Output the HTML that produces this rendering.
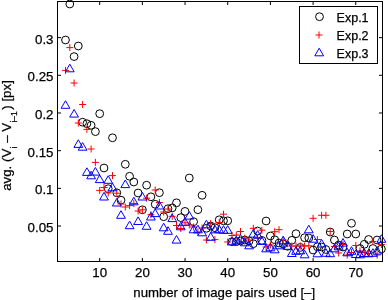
<!DOCTYPE html>
<html><head><meta charset="utf-8"><style>
html,body{margin:0;padding:0;background:#fff;width:388px;height:300px;overflow:hidden}
svg{display:block;will-change:transform}
text{font-family:"Liberation Sans",sans-serif;font-size:13.3px;fill:#000;stroke:#000;stroke-width:0.25px}
</style></head><body>
<svg width="388" height="300" viewBox="0 0 388 300">
<g><circle cx="65.5" cy="40.0" r="3.9" fill="none" stroke="#000" stroke-width="1"/><circle cx="69.8" cy="4.0" r="3.9" fill="none" stroke="#000" stroke-width="1"/><circle cx="74.1" cy="56.6" r="3.9" fill="none" stroke="#000" stroke-width="1"/><circle cx="78.3" cy="46.0" r="3.9" fill="none" stroke="#000" stroke-width="1"/><circle cx="82.6" cy="122.2" r="3.9" fill="none" stroke="#000" stroke-width="1"/><circle cx="86.9" cy="123.7" r="3.9" fill="none" stroke="#000" stroke-width="1"/><circle cx="91.1" cy="125.3" r="3.9" fill="none" stroke="#000" stroke-width="1"/><circle cx="95.4" cy="131.6" r="3.9" fill="none" stroke="#000" stroke-width="1"/><circle cx="99.7" cy="113.7" r="3.9" fill="none" stroke="#000" stroke-width="1"/><circle cx="104.0" cy="168.0" r="3.9" fill="none" stroke="#000" stroke-width="1"/><circle cx="108.2" cy="188.7" r="3.9" fill="none" stroke="#000" stroke-width="1"/><circle cx="112.5" cy="137.8" r="3.9" fill="none" stroke="#000" stroke-width="1"/><circle cx="116.8" cy="192.8" r="3.9" fill="none" stroke="#000" stroke-width="1"/><circle cx="121.0" cy="200.2" r="3.9" fill="none" stroke="#000" stroke-width="1"/><circle cx="125.3" cy="164.3" r="3.9" fill="none" stroke="#000" stroke-width="1"/><circle cx="129.6" cy="176.3" r="3.9" fill="none" stroke="#000" stroke-width="1"/><circle cx="133.8" cy="182.0" r="3.9" fill="none" stroke="#000" stroke-width="1"/><circle cx="138.1" cy="193.0" r="3.9" fill="none" stroke="#000" stroke-width="1"/><circle cx="142.4" cy="209.8" r="3.9" fill="none" stroke="#000" stroke-width="1"/><circle cx="146.6" cy="185.2" r="3.9" fill="none" stroke="#000" stroke-width="1"/><circle cx="150.9" cy="196.8" r="3.9" fill="none" stroke="#000" stroke-width="1"/><circle cx="155.2" cy="204.3" r="3.9" fill="none" stroke="#000" stroke-width="1"/><circle cx="159.4" cy="192.7" r="3.9" fill="none" stroke="#000" stroke-width="1"/><circle cx="163.7" cy="216.7" r="3.9" fill="none" stroke="#000" stroke-width="1"/><circle cx="168.0" cy="208.7" r="3.9" fill="none" stroke="#000" stroke-width="1"/><circle cx="172.2" cy="207.9" r="3.9" fill="none" stroke="#000" stroke-width="1"/><circle cx="176.5" cy="202.8" r="3.9" fill="none" stroke="#000" stroke-width="1"/><circle cx="180.8" cy="217.6" r="3.9" fill="none" stroke="#000" stroke-width="1"/><circle cx="185.0" cy="211.4" r="3.9" fill="none" stroke="#000" stroke-width="1"/><circle cx="189.3" cy="178.0" r="3.9" fill="none" stroke="#000" stroke-width="1"/><circle cx="193.6" cy="221.7" r="3.9" fill="none" stroke="#000" stroke-width="1"/><circle cx="197.9" cy="209.7" r="3.9" fill="none" stroke="#000" stroke-width="1"/><circle cx="202.1" cy="195.3" r="3.9" fill="none" stroke="#000" stroke-width="1"/><circle cx="206.4" cy="228.3" r="3.9" fill="none" stroke="#000" stroke-width="1"/><circle cx="210.7" cy="226.0" r="3.9" fill="none" stroke="#000" stroke-width="1"/><circle cx="214.9" cy="227.7" r="3.9" fill="none" stroke="#000" stroke-width="1"/><circle cx="219.2" cy="219.8" r="3.9" fill="none" stroke="#000" stroke-width="1"/><circle cx="223.5" cy="220.8" r="3.9" fill="none" stroke="#000" stroke-width="1"/><circle cx="227.7" cy="220.8" r="3.9" fill="none" stroke="#000" stroke-width="1"/><circle cx="232.0" cy="241.7" r="3.9" fill="none" stroke="#000" stroke-width="1"/><circle cx="236.3" cy="241.7" r="3.9" fill="none" stroke="#000" stroke-width="1"/><circle cx="240.5" cy="241.0" r="3.9" fill="none" stroke="#000" stroke-width="1"/><circle cx="244.8" cy="240.0" r="3.9" fill="none" stroke="#000" stroke-width="1"/><circle cx="249.1" cy="241.0" r="3.9" fill="none" stroke="#000" stroke-width="1"/><circle cx="253.3" cy="243.7" r="3.9" fill="none" stroke="#000" stroke-width="1"/><circle cx="257.6" cy="231.0" r="3.9" fill="none" stroke="#000" stroke-width="1"/><circle cx="261.9" cy="240.4" r="3.9" fill="none" stroke="#000" stroke-width="1"/><circle cx="266.1" cy="221.0" r="3.9" fill="none" stroke="#000" stroke-width="1"/><circle cx="270.4" cy="236.0" r="3.9" fill="none" stroke="#000" stroke-width="1"/><circle cx="274.7" cy="239.7" r="3.9" fill="none" stroke="#000" stroke-width="1"/><circle cx="279.0" cy="243.0" r="3.9" fill="none" stroke="#000" stroke-width="1"/><circle cx="283.2" cy="244.0" r="3.9" fill="none" stroke="#000" stroke-width="1"/><circle cx="287.5" cy="246.3" r="3.9" fill="none" stroke="#000" stroke-width="1"/><circle cx="291.8" cy="240.3" r="3.9" fill="none" stroke="#000" stroke-width="1"/><circle cx="296.0" cy="233.7" r="3.9" fill="none" stroke="#000" stroke-width="1"/><circle cx="300.3" cy="247.4" r="3.9" fill="none" stroke="#000" stroke-width="1"/><circle cx="304.6" cy="237.7" r="3.9" fill="none" stroke="#000" stroke-width="1"/><circle cx="308.8" cy="238.0" r="3.9" fill="none" stroke="#000" stroke-width="1"/><circle cx="313.1" cy="250.0" r="3.9" fill="none" stroke="#000" stroke-width="1"/><circle cx="317.4" cy="246.8" r="3.9" fill="none" stroke="#000" stroke-width="1"/><circle cx="321.6" cy="247.0" r="3.9" fill="none" stroke="#000" stroke-width="1"/><circle cx="325.9" cy="249.5" r="3.9" fill="none" stroke="#000" stroke-width="1"/><circle cx="330.2" cy="232.0" r="3.9" fill="none" stroke="#000" stroke-width="1"/><circle cx="334.4" cy="240.0" r="3.9" fill="none" stroke="#000" stroke-width="1"/><circle cx="338.7" cy="245.0" r="3.9" fill="none" stroke="#000" stroke-width="1"/><circle cx="343.0" cy="247.0" r="3.9" fill="none" stroke="#000" stroke-width="1"/><circle cx="347.2" cy="234.0" r="3.9" fill="none" stroke="#000" stroke-width="1"/><circle cx="351.5" cy="223.3" r="3.9" fill="none" stroke="#000" stroke-width="1"/><circle cx="355.8" cy="234.0" r="3.9" fill="none" stroke="#000" stroke-width="1"/><circle cx="360.0" cy="248.5" r="3.9" fill="none" stroke="#000" stroke-width="1"/><circle cx="364.3" cy="244.3" r="3.9" fill="none" stroke="#000" stroke-width="1"/><circle cx="368.6" cy="239.5" r="3.9" fill="none" stroke="#000" stroke-width="1"/><circle cx="372.9" cy="248.5" r="3.9" fill="none" stroke="#000" stroke-width="1"/><circle cx="377.1" cy="240.0" r="3.9" fill="none" stroke="#000" stroke-width="1"/><circle cx="381.4" cy="249.0" r="3.9" fill="none" stroke="#000" stroke-width="1"/><path d="M62.0 70.4H69.0M65.5 66.9V73.9" stroke="#f00" stroke-width="1" fill="none"/><path d="M66.3 47.6H73.3M69.8 44.1V51.1" stroke="#f00" stroke-width="1" fill="none"/><path d="M70.6 83.0H77.6M74.1 79.5V86.5" stroke="#f00" stroke-width="1" fill="none"/><path d="M74.8 123.0H81.8M78.3 119.5V126.5" stroke="#f00" stroke-width="1" fill="none"/><path d="M79.1 104.5H86.1M82.6 101.0V108.0" stroke="#f00" stroke-width="1" fill="none"/><path d="M83.4 129.4H90.4M86.9 125.9V132.9" stroke="#f00" stroke-width="1" fill="none"/><path d="M87.6 149.0H94.6M91.1 145.5V152.5" stroke="#f00" stroke-width="1" fill="none"/><path d="M91.9 162.4H98.9M95.4 158.9V165.9" stroke="#f00" stroke-width="1" fill="none"/><path d="M96.2 190.4H103.2M99.7 186.9V193.9" stroke="#f00" stroke-width="1" fill="none"/><path d="M100.5 187.5H107.5M104.0 184.0V191.0" stroke="#f00" stroke-width="1" fill="none"/><path d="M104.7 192.9H111.7M108.2 189.4V196.4" stroke="#f00" stroke-width="1" fill="none"/><path d="M109.0 175.6H116.0M112.5 172.1V179.1" stroke="#f00" stroke-width="1" fill="none"/><path d="M113.3 193.2H120.3M116.8 189.7V196.7" stroke="#f00" stroke-width="1" fill="none"/><path d="M117.5 204.0H124.5M121.0 200.5V207.5" stroke="#f00" stroke-width="1" fill="none"/><path d="M121.8 207.0H128.8M125.3 203.5V210.5" stroke="#f00" stroke-width="1" fill="none"/><path d="M126.1 205.6H133.1M129.6 202.1V209.1" stroke="#f00" stroke-width="1" fill="none"/><path d="M130.3 203.5H137.3M133.8 200.0V207.0" stroke="#f00" stroke-width="1" fill="none"/><path d="M134.6 211.0H141.6M138.1 207.5V214.5" stroke="#f00" stroke-width="1" fill="none"/><path d="M138.9 209.8H145.9M142.4 206.3V213.3" stroke="#f00" stroke-width="1" fill="none"/><path d="M143.1 198.2H150.1M146.6 194.7V201.7" stroke="#f00" stroke-width="1" fill="none"/><path d="M147.4 214.7H154.4M150.9 211.2V218.2" stroke="#f00" stroke-width="1" fill="none"/><path d="M151.7 190.0H158.7M155.2 186.5V193.5" stroke="#f00" stroke-width="1" fill="none"/><path d="M155.9 202.5H162.9M159.4 199.0V206.0" stroke="#f00" stroke-width="1" fill="none"/><path d="M160.2 212.0H167.2M163.7 208.5V215.5" stroke="#f00" stroke-width="1" fill="none"/><path d="M164.5 209.0H171.5M168.0 205.5V212.5" stroke="#f00" stroke-width="1" fill="none"/><path d="M168.7 216.3H175.7M172.2 212.8V219.8" stroke="#f00" stroke-width="1" fill="none"/><path d="M173.0 225.5H180.0M176.5 222.0V229.0" stroke="#f00" stroke-width="1" fill="none"/><path d="M177.3 228.5H184.3M180.8 225.0V232.0" stroke="#f00" stroke-width="1" fill="none"/><path d="M181.5 222.8H188.5M185.0 219.3V226.3" stroke="#f00" stroke-width="1" fill="none"/><path d="M185.8 225.0H192.8M189.3 221.5V228.5" stroke="#f00" stroke-width="1" fill="none"/><path d="M190.1 227.0H197.1M193.6 223.5V230.5" stroke="#f00" stroke-width="1" fill="none"/><path d="M194.4 232.0H201.4M197.9 228.5V235.5" stroke="#f00" stroke-width="1" fill="none"/><path d="M198.6 228.0H205.6M202.1 224.5V231.5" stroke="#f00" stroke-width="1" fill="none"/><path d="M202.9 240.0H209.9M206.4 236.5V243.5" stroke="#f00" stroke-width="1" fill="none"/><path d="M207.2 223.5H214.2M210.7 220.0V227.0" stroke="#f00" stroke-width="1" fill="none"/><path d="M211.4 239.6H218.4M214.9 236.1V243.1" stroke="#f00" stroke-width="1" fill="none"/><path d="M215.7 222.5H222.7M219.2 219.0V226.0" stroke="#f00" stroke-width="1" fill="none"/><path d="M220.0 214.2H227.0M223.5 210.7V217.7" stroke="#f00" stroke-width="1" fill="none"/><path d="M224.2 242.0H231.2M227.7 238.5V245.5" stroke="#f00" stroke-width="1" fill="none"/><path d="M228.5 235.5H235.5M232.0 232.0V239.0" stroke="#f00" stroke-width="1" fill="none"/><path d="M232.8 235.0H239.8M236.3 231.5V238.5" stroke="#f00" stroke-width="1" fill="none"/><path d="M237.0 231.5H244.0M240.5 228.0V235.0" stroke="#f00" stroke-width="1" fill="none"/><path d="M241.3 238.0H248.3M244.8 234.5V241.5" stroke="#f00" stroke-width="1" fill="none"/><path d="M245.6 240.0H252.6M249.1 236.5V243.5" stroke="#f00" stroke-width="1" fill="none"/><path d="M249.8 228.3H256.8M253.3 224.8V231.8" stroke="#f00" stroke-width="1" fill="none"/><path d="M254.1 238.0H261.1M257.6 234.5V241.5" stroke="#f00" stroke-width="1" fill="none"/><path d="M258.4 230.2H265.4M261.9 226.7V233.7" stroke="#f00" stroke-width="1" fill="none"/><path d="M262.6 247.0H269.6M266.1 243.5V250.5" stroke="#f00" stroke-width="1" fill="none"/><path d="M266.9 245.0H273.9M270.4 241.5V248.5" stroke="#f00" stroke-width="1" fill="none"/><path d="M271.2 231.7H278.2M274.7 228.2V235.2" stroke="#f00" stroke-width="1" fill="none"/><path d="M275.5 229.7H282.5M279.0 226.2V233.2" stroke="#f00" stroke-width="1" fill="none"/><path d="M279.7 240.0H286.7M283.2 236.5V243.5" stroke="#f00" stroke-width="1" fill="none"/><path d="M284.0 243.7H291.0M287.5 240.2V247.2" stroke="#f00" stroke-width="1" fill="none"/><path d="M288.3 246.0H295.3M291.8 242.5V249.5" stroke="#f00" stroke-width="1" fill="none"/><path d="M292.5 246.0H299.5M296.0 242.5V249.5" stroke="#f00" stroke-width="1" fill="none"/><path d="M296.8 246.0H303.8M300.3 242.5V249.5" stroke="#f00" stroke-width="1" fill="none"/><path d="M301.1 246.0H308.1M304.6 242.5V249.5" stroke="#f00" stroke-width="1" fill="none"/><path d="M305.3 245.8H312.3M308.8 242.3V249.3" stroke="#f00" stroke-width="1" fill="none"/><path d="M309.6 218.3H316.6M313.1 214.8V221.8" stroke="#f00" stroke-width="1" fill="none"/><path d="M313.9 239.5H320.9M317.4 236.0V243.0" stroke="#f00" stroke-width="1" fill="none"/><path d="M318.1 215.3H325.1M321.6 211.8V218.8" stroke="#f00" stroke-width="1" fill="none"/><path d="M322.4 215.3H329.4M325.9 211.8V218.8" stroke="#f00" stroke-width="1" fill="none"/><path d="M326.7 231.5H333.7M330.2 228.0V235.0" stroke="#f00" stroke-width="1" fill="none"/><path d="M330.9 246.5H337.9M334.4 243.0V250.0" stroke="#f00" stroke-width="1" fill="none"/><path d="M335.2 253.0H342.2M338.7 249.5V256.5" stroke="#f00" stroke-width="1" fill="none"/><path d="M339.5 244.5H346.5M343.0 241.0V248.0" stroke="#f00" stroke-width="1" fill="none"/><path d="M343.7 255.0H350.7M347.2 251.5V258.5" stroke="#f00" stroke-width="1" fill="none"/><path d="M348.0 252.5H355.0M351.5 249.0V256.0" stroke="#f00" stroke-width="1" fill="none"/><path d="M352.3 245.5H359.3M355.8 242.0V249.0" stroke="#f00" stroke-width="1" fill="none"/><path d="M356.5 251.0H363.5M360.0 247.5V254.5" stroke="#f00" stroke-width="1" fill="none"/><path d="M360.8 252.5H367.8M364.3 249.0V256.0" stroke="#f00" stroke-width="1" fill="none"/><path d="M365.1 253.5H372.1M368.6 250.0V257.0" stroke="#f00" stroke-width="1" fill="none"/><path d="M369.4 241.5H376.4M372.9 238.0V245.0" stroke="#f00" stroke-width="1" fill="none"/><path d="M373.6 255.0H380.6M377.1 251.5V258.5" stroke="#f00" stroke-width="1" fill="none"/><path d="M377.9 244.5H384.9M381.4 241.0V248.0" stroke="#f00" stroke-width="1" fill="none"/><path d="M65.5 100.7L69.9 108.3L61.1 108.3Z" stroke="#00f" stroke-width="1" fill="none"/><path d="M69.8 64.2L74.2 71.8L65.4 71.8Z" stroke="#00f" stroke-width="1" fill="none"/><path d="M74.1 109.5L78.5 117.1L69.7 117.1Z" stroke="#00f" stroke-width="1" fill="none"/><path d="M78.3 139.8L82.7 147.4L73.9 147.4Z" stroke="#00f" stroke-width="1" fill="none"/><path d="M82.6 142.6L87.0 150.2L78.2 150.2Z" stroke="#00f" stroke-width="1" fill="none"/><path d="M86.9 167.8L91.3 175.4L82.5 175.4Z" stroke="#00f" stroke-width="1" fill="none"/><path d="M91.1 171.2L95.5 178.8L86.7 178.8Z" stroke="#00f" stroke-width="1" fill="none"/><path d="M95.4 167.5L99.8 175.1L91.0 175.1Z" stroke="#00f" stroke-width="1" fill="none"/><path d="M99.7 175.0L104.1 182.6L95.3 182.6Z" stroke="#00f" stroke-width="1" fill="none"/><path d="M104.0 192.4L108.4 200.0L99.6 200.0Z" stroke="#00f" stroke-width="1" fill="none"/><path d="M108.2 175.7L112.6 183.3L103.8 183.3Z" stroke="#00f" stroke-width="1" fill="none"/><path d="M112.5 183.2L116.9 190.8L108.1 190.8Z" stroke="#00f" stroke-width="1" fill="none"/><path d="M116.8 198.4L121.2 206.0L112.4 206.0Z" stroke="#00f" stroke-width="1" fill="none"/><path d="M121.0 210.7L125.4 218.3L116.6 218.3Z" stroke="#00f" stroke-width="1" fill="none"/><path d="M125.3 180.0L129.7 187.6L120.9 187.6Z" stroke="#00f" stroke-width="1" fill="none"/><path d="M129.6 221.1L134.0 228.7L125.2 228.7Z" stroke="#00f" stroke-width="1" fill="none"/><path d="M133.8 197.2L138.2 204.8L129.4 204.8Z" stroke="#00f" stroke-width="1" fill="none"/><path d="M138.1 216.9L142.5 224.5L133.7 224.5Z" stroke="#00f" stroke-width="1" fill="none"/><path d="M142.4 192.4L146.8 200.0L138.0 200.0Z" stroke="#00f" stroke-width="1" fill="none"/><path d="M146.6 221.7L151.0 229.3L142.2 229.3Z" stroke="#00f" stroke-width="1" fill="none"/><path d="M150.9 212.4L155.3 220.0L146.5 220.0Z" stroke="#00f" stroke-width="1" fill="none"/><path d="M155.2 209.0L159.6 216.6L150.8 216.6Z" stroke="#00f" stroke-width="1" fill="none"/><path d="M159.4 201.4L163.8 209.0L155.0 209.0Z" stroke="#00f" stroke-width="1" fill="none"/><path d="M163.7 223.2L168.1 230.8L159.3 230.8Z" stroke="#00f" stroke-width="1" fill="none"/><path d="M168.0 226.7L172.4 234.3L163.6 234.3Z" stroke="#00f" stroke-width="1" fill="none"/><path d="M172.2 214.0L176.6 221.6L167.8 221.6Z" stroke="#00f" stroke-width="1" fill="none"/><path d="M176.5 235.5L180.9 243.1L172.1 243.1Z" stroke="#00f" stroke-width="1" fill="none"/><path d="M180.8 222.2L185.2 229.8L176.4 229.8Z" stroke="#00f" stroke-width="1" fill="none"/><path d="M185.0 217.7L189.4 225.3L180.6 225.3Z" stroke="#00f" stroke-width="1" fill="none"/><path d="M189.3 211.5L193.7 219.1L184.9 219.1Z" stroke="#00f" stroke-width="1" fill="none"/><path d="M193.6 225.2L198.0 232.8L189.2 232.8Z" stroke="#00f" stroke-width="1" fill="none"/><path d="M197.9 225.2L202.3 232.8L193.5 232.8Z" stroke="#00f" stroke-width="1" fill="none"/><path d="M202.1 228.2L206.5 235.8L197.7 235.8Z" stroke="#00f" stroke-width="1" fill="none"/><path d="M206.4 220.2L210.8 227.8L202.0 227.8Z" stroke="#00f" stroke-width="1" fill="none"/><path d="M210.7 232.7L215.1 240.3L206.3 240.3Z" stroke="#00f" stroke-width="1" fill="none"/><path d="M214.9 225.2L219.3 232.8L210.5 232.8Z" stroke="#00f" stroke-width="1" fill="none"/><path d="M219.2 225.2L223.6 232.8L214.8 232.8Z" stroke="#00f" stroke-width="1" fill="none"/><path d="M223.5 225.7L227.9 233.3L219.1 233.3Z" stroke="#00f" stroke-width="1" fill="none"/><path d="M227.7 225.7L232.1 233.3L223.3 233.3Z" stroke="#00f" stroke-width="1" fill="none"/><path d="M232.0 237.2L236.4 244.8L227.6 244.8Z" stroke="#00f" stroke-width="1" fill="none"/><path d="M236.3 236.2L240.7 243.8L231.9 243.8Z" stroke="#00f" stroke-width="1" fill="none"/><path d="M240.5 234.5L244.9 242.1L236.1 242.1Z" stroke="#00f" stroke-width="1" fill="none"/><path d="M244.8 238.2L249.2 245.8L240.4 245.8Z" stroke="#00f" stroke-width="1" fill="none"/><path d="M249.1 241.2L253.5 248.8L244.7 248.8Z" stroke="#00f" stroke-width="1" fill="none"/><path d="M253.3 229.5L257.7 237.1L248.9 237.1Z" stroke="#00f" stroke-width="1" fill="none"/><path d="M257.6 230.6L262.0 238.2L253.2 238.2Z" stroke="#00f" stroke-width="1" fill="none"/><path d="M261.9 236.8L266.3 244.4L257.5 244.4Z" stroke="#00f" stroke-width="1" fill="none"/><path d="M266.1 244.2L270.5 251.8L261.7 251.8Z" stroke="#00f" stroke-width="1" fill="none"/><path d="M270.4 243.2L274.8 250.8L266.0 250.8Z" stroke="#00f" stroke-width="1" fill="none"/><path d="M274.7 245.2L279.1 252.8L270.3 252.8Z" stroke="#00f" stroke-width="1" fill="none"/><path d="M279.0 241.2L283.4 248.8L274.6 248.8Z" stroke="#00f" stroke-width="1" fill="none"/><path d="M283.2 236.2L287.6 243.8L278.8 243.8Z" stroke="#00f" stroke-width="1" fill="none"/><path d="M287.5 241.7L291.9 249.3L283.1 249.3Z" stroke="#00f" stroke-width="1" fill="none"/><path d="M291.8 248.9L296.2 256.5L287.4 256.5Z" stroke="#00f" stroke-width="1" fill="none"/><path d="M296.0 246.7L300.4 254.3L291.6 254.3Z" stroke="#00f" stroke-width="1" fill="none"/><path d="M300.3 246.2L304.7 253.8L295.9 253.8Z" stroke="#00f" stroke-width="1" fill="none"/><path d="M304.6 250.2L309.0 257.8L300.2 257.8Z" stroke="#00f" stroke-width="1" fill="none"/><path d="M308.8 225.2L313.2 232.8L304.4 232.8Z" stroke="#00f" stroke-width="1" fill="none"/><path d="M313.1 234.6L317.5 242.2L308.7 242.2Z" stroke="#00f" stroke-width="1" fill="none"/><path d="M317.4 249.2L321.8 256.8L313.0 256.8Z" stroke="#00f" stroke-width="1" fill="none"/><path d="M321.6 239.4L326.0 247.0L317.2 247.0Z" stroke="#00f" stroke-width="1" fill="none"/><path d="M325.9 248.7L330.3 256.3L321.5 256.3Z" stroke="#00f" stroke-width="1" fill="none"/><path d="M330.2 249.1L334.6 256.7L325.8 256.7Z" stroke="#00f" stroke-width="1" fill="none"/><path d="M334.4 244.2L338.8 251.8L330.0 251.8Z" stroke="#00f" stroke-width="1" fill="none"/><path d="M338.7 242.2L343.1 249.8L334.3 249.8Z" stroke="#00f" stroke-width="1" fill="none"/><path d="M343.0 238.5L347.4 246.1L338.6 246.1Z" stroke="#00f" stroke-width="1" fill="none"/><path d="M347.2 248.2L351.6 255.8L342.8 255.8Z" stroke="#00f" stroke-width="1" fill="none"/><path d="M351.5 246.7L355.9 254.3L347.1 254.3Z" stroke="#00f" stroke-width="1" fill="none"/><path d="M355.8 249.9L360.2 257.5L351.4 257.5Z" stroke="#00f" stroke-width="1" fill="none"/><path d="M360.0 250.2L364.4 257.8L355.6 257.8Z" stroke="#00f" stroke-width="1" fill="none"/><path d="M364.3 248.9L368.7 256.5L359.9 256.5Z" stroke="#00f" stroke-width="1" fill="none"/><path d="M368.6 249.2L373.0 256.8L364.2 256.8Z" stroke="#00f" stroke-width="1" fill="none"/><path d="M372.9 248.7L377.3 256.3L368.5 256.3Z" stroke="#00f" stroke-width="1" fill="none"/><path d="M377.1 246.5L381.5 254.1L372.7 254.1Z" stroke="#00f" stroke-width="1" fill="none"/><path d="M381.4 234.7L385.8 242.3L377.0 242.3Z" stroke="#00f" stroke-width="1" fill="none"/></g>
<rect x="57.5" y="1.5" width="325" height="260" fill="none" stroke="#000" stroke-width="1"/><line x1="99.68" y1="261" x2="99.68" y2="258" stroke="#000"/><line x1="99.68" y1="2" x2="99.68" y2="5" stroke="#000"/><text x="99.7" y="277.3" text-anchor="middle">10</text><line x1="142.37" y1="261" x2="142.37" y2="258" stroke="#000"/><line x1="142.37" y1="2" x2="142.37" y2="5" stroke="#000"/><text x="142.4" y="277.3" text-anchor="middle">20</text><line x1="185.05" y1="261" x2="185.05" y2="258" stroke="#000"/><line x1="185.05" y1="2" x2="185.05" y2="5" stroke="#000"/><text x="185.0" y="277.3" text-anchor="middle">30</text><line x1="227.73" y1="261" x2="227.73" y2="258" stroke="#000"/><line x1="227.73" y1="2" x2="227.73" y2="5" stroke="#000"/><text x="227.7" y="277.3" text-anchor="middle">40</text><line x1="270.41" y1="261" x2="270.41" y2="258" stroke="#000"/><line x1="270.41" y1="2" x2="270.41" y2="5" stroke="#000"/><text x="270.4" y="277.3" text-anchor="middle">50</text><line x1="313.1" y1="261" x2="313.1" y2="258" stroke="#000"/><line x1="313.1" y1="2" x2="313.1" y2="5" stroke="#000"/><text x="313.1" y="277.3" text-anchor="middle">60</text><line x1="355.78" y1="261" x2="355.78" y2="258" stroke="#000"/><line x1="355.78" y1="2" x2="355.78" y2="5" stroke="#000"/><text x="355.8" y="277.3" text-anchor="middle">70</text><line x1="58" y1="226.02" x2="61" y2="226.02" stroke="#000"/><line x1="382" y1="226.02" x2="379" y2="226.02" stroke="#000"/><text x="53.5" y="232.0" text-anchor="end">0.05</text><line x1="58" y1="188.34" x2="61" y2="188.34" stroke="#000"/><line x1="382" y1="188.34" x2="379" y2="188.34" stroke="#000"/><text x="53.5" y="194.3" text-anchor="end">0.1</text><line x1="58" y1="150.66" x2="61" y2="150.66" stroke="#000"/><line x1="382" y1="150.66" x2="379" y2="150.66" stroke="#000"/><text x="53.5" y="156.7" text-anchor="end">0.15</text><line x1="58" y1="112.98" x2="61" y2="112.98" stroke="#000"/><line x1="382" y1="112.98" x2="379" y2="112.98" stroke="#000"/><text x="53.5" y="119.0" text-anchor="end">0.2</text><line x1="58" y1="75.3" x2="61" y2="75.3" stroke="#000"/><line x1="382" y1="75.3" x2="379" y2="75.3" stroke="#000"/><text x="53.5" y="81.3" text-anchor="end">0.25</text><line x1="58" y1="37.62" x2="61" y2="37.62" stroke="#000"/><line x1="382" y1="37.62" x2="379" y2="37.62" stroke="#000"/><text x="53.5" y="43.6" text-anchor="end">0.3</text>

<rect x="299.5" y="6.5" width="78" height="57" fill="#fff" stroke="#000" stroke-width="1"/>
<circle cx="319.5" cy="16.7" r="3.9" fill="none" stroke="#000" stroke-width="1"/>
<path d="M315.5 35.0H322.5M319.0 31.5V38.5" stroke="#f00" stroke-width="1" fill="none"/>
<path d="M319.2 48.2L323.6 55.8L314.8 55.8Z" stroke="#00f" stroke-width="1" fill="none"/>
<text x="336.6" y="21.5" style="font-size:12.5px">Exp.1</text>
<text x="336.6" y="40.2" style="font-size:12.5px">Exp.2</text>
<text x="336.6" y="58.2" style="font-size:12.5px">Exp.3</text>

<text x="224.2" y="296.5" text-anchor="middle" style="font-size:13.2px">number of image pairs used [–]</text>
<text transform="translate(11.0,135.5) rotate(-90)" text-anchor="middle">avg. (V<tspan font-size="8.5" dy="5.5" dx="0.3">i</tspan><tspan dy="-5.5"> – V</tspan><tspan font-size="8.5" dy="5.5" dx="0.3">i–1</tspan><tspan dy="-5.5" dx="1.5">) [px]</tspan></text>
</svg>
</body></html>
